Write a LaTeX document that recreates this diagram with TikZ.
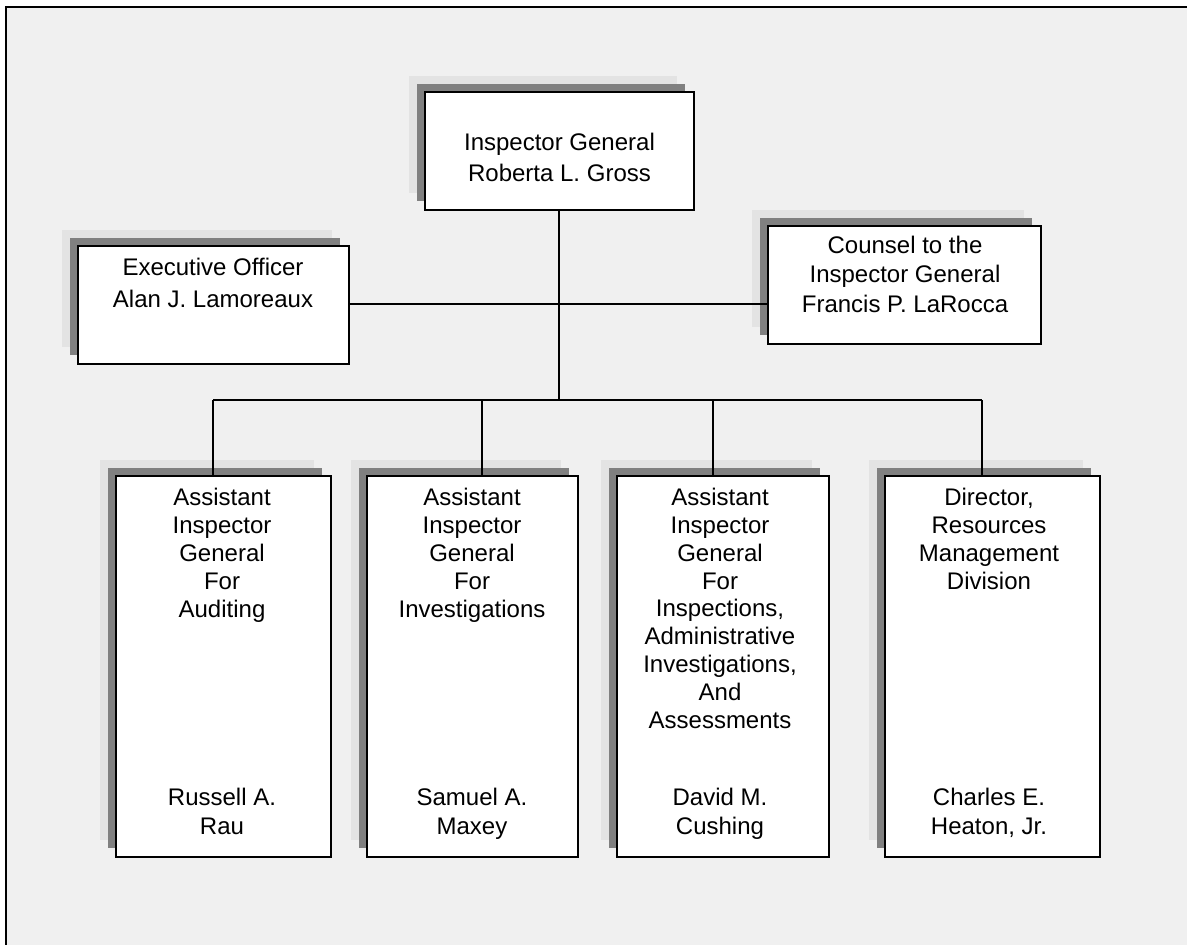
\documentclass[tikz,border=0pt]{standalone}
\usepackage{fontspec}
\setmainfont{Liberation Sans}
\definecolor{bgc}{HTML}{F0F0F0}
\definecolor{shlight}{HTML}{E3E3E3}
\definecolor{shdark}{HTML}{808080}
\tikzset{
  orgbox/.style={draw=black, fill=white, line width=2.2pt, rectangle, inner sep=0pt, outer sep=0pt},
  orgline/.style={draw=black, line width=1.8pt},
  orgtext/.style={anchor=base, inner sep=0pt, outer sep=0pt}
}
\newcommand\orgbx[5]{%
  \fill[shlight] (#2-16,#3-16) rectangle (#4-17,#5-17);
  \fill[shdark] (#2-8,#3-8) rectangle (#4-9,#5-9);
  \node[orgbox, minimum width=#4-#2, minimum height=#5-#3, anchor=north west] (#1) at (#2,#3) {};
}
\newcommand\orgtxt[3]{\parbox[t]{#1}{\fontsize{24}{#2}\selectfont\centering #3\par}}
\begin{document}
\begin{tikzpicture}[x=1pt,y=-1pt]
\useasboundingbox (0,0) rectangle (1187,945);
\fill[bgc] (6.2,6.8) rectangle (1187,945);
\draw[line width=2.4pt] (6.2,945) -- (6.2,6.8) -- (1187,6.8);

% boxes
\orgbx{ig}{425}{92}{694}{210}
\orgbx{ex}{78}{246}{349}{364}
\orgbx{co}{768}{226}{1041}{344}
\orgbx{b1}{116}{476}{331}{857}
\orgbx{b2}{367}{476}{578}{857}
\orgbx{b3}{617}{476}{829}{857}
\orgbx{b4}{885}{476}{1100}{857}

% texts
\node[orgtext] (ig-t) at (559.5,150) {\orgtxt{260pt}{31.5pt}{Inspector General\\Roberta L. Gross}};
\node[orgtext] (ex-t) at (213,275) {\orgtxt{260pt}{32pt}{Executive Officer\\Alan J. Lamoreaux}};
\node[orgtext] (co-t) at (905,253) {\orgtxt{260pt}{29.5pt}{Counsel to the\\Inspector General\\Francis P. LaRocca}};

\node[orgtext] (b1-t) at (222,505.7) {\orgtxt{200pt}{28pt}{Assistant\\Inspector\\General\\For\\Auditing}};
\node[orgtext] (b2-t) at (472,505.7) {\orgtxt{200pt}{28pt}{Assistant\\Inspector\\General\\For\\Investigations}};
\node[orgtext] (b3-t) at (720,505.7) {\orgtxt{205pt}{27.8pt}{Assistant\\Inspector\\General\\For\\Inspections,\\Administrative\\Investigations,\\And\\Assessments}};
\node[orgtext] (b4-t) at (989,505.7) {\orgtxt{205pt}{28pt}{Director,\\Resources\\Management\\Division}};

\node[orgtext] (b1-n) at (222,805) {\orgtxt{200pt}{29pt}{Russell A.\\Rau}};
\node[orgtext] (b2-n) at (472,805) {\orgtxt{200pt}{29pt}{Samuel A.\\Maxey}};
\node[orgtext] (b3-n) at (720,805) {\orgtxt{200pt}{29pt}{David M.\\Cushing}};
\node[orgtext] (b4-n) at (989,805) {\orgtxt{200pt}{29pt}{Charles E.\\Heaton, Jr.}};

% connectors
\coordinate (bus) at (559,400);
\coordinate (hl) at (559,304);
\coordinate (d1) at (213,400);
\coordinate (d2) at (482,400);
\coordinate (d3) at (713,400);
\coordinate (d4) at (982,400);
\draw[orgline] (ig.south -| bus) -- (bus);
\draw[orgline] (hl -| ex.east) -- (hl -| co.west);
\draw[orgline] (d1) -- (d4);
\draw[orgline] (d1) -- (d1 |- b1.north);
\draw[orgline] (d2) -- (d2 |- b2.north);
\draw[orgline] (d3) -- (d3 |- b3.north);
\draw[orgline] (d4) -- (d4 |- b4.north);
\end{tikzpicture}
\end{document}
